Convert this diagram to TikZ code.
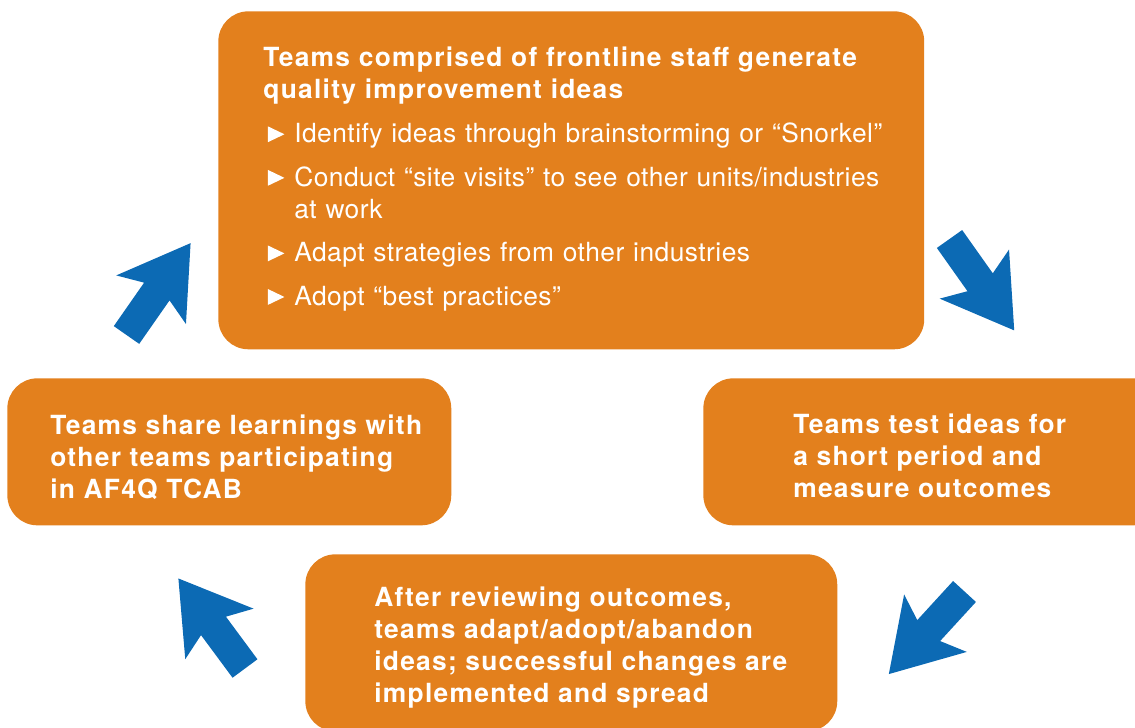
\documentclass[tikz,border=0pt]{standalone}
\usepackage{fontspec}
\setmainfont{TeX Gyre Heros}[LetterSpace=1.8, BoldFeatures={LetterSpace=4.8}]
\usetikzlibrary{positioning}

\definecolor{cycleorange}{RGB}{227,128,29}
\definecolor{cycleblue}{RGB}{12,106,180}

% bullet line with a hanging indent
\newcommand{\bul}[1]{\par\vspace{6.6pt}\hangindent=17.6pt\hangafter=1\noindent\makebox[17.6pt][l]{\hspace{2.6pt}\raisebox{0.2pt}{\tikz\fill (0,0) -- (0,9pt) -- (9.4pt,4.5pt) -- cycle;}}#1}

\begin{document}
\begin{tikzpicture}[x=0.02cm, y=0.02cm,
    stepbox/.style={fill=cycleorange, rounded corners=0.6cm, inner sep=0pt, anchor=north west},
    steptext/.style={text=white, inner sep=0pt, anchor=north west, align=left, font=\fontsize{15}{18.2}\selectfont},
    turn/.style={fill=cycleblue}]
\useasboundingbox (0,0) rectangle (1135,727);
\clip (0,0) rectangle (1135,727);

\node[stepbox, minimum width=14.12cm, minimum height=6.76cm] (ideas) at (218,716) {};
\node[stepbox, minimum width=9.2cm, minimum height=2.94cm] (test) at (703,349) {};
\node[stepbox, minimum width=10.64cm, minimum height=3.54cm] (review) at (305,173) {};
\node[stepbox, minimum width=8.88cm, minimum height=2.94cm] (share) at (7,349) {};

\node[steptext, text width=13cm] (ideastext) at ([shift={(45,-36)}]ideas.north west) {%
  {\bfseries Teams comprised of frontline staff generate\newline quality improvement ideas}
  \bul{Identify ideas through brainstorming or “Snorkel”}
  \bul{Conduct “site visits” to see other units/industries\newline at work}
  \bul{Adapt strategies from other industries}
  \bul{Adopt “best practices”}};
\node[steptext, font=\fontsize{15}{18.2}\selectfont\bfseries] (testtext) at ([shift={(90,-36)}]test.north west) {Teams test ideas for\\a short period and\\measure outcomes};
\node[steptext, font=\fontsize{15}{18.2}\selectfont\bfseries] (reviewtext) at ([shift={(69,-33)}]review.north west) {After reviewing outcomes,\\teams adapt/adopt/abandon\\ideas; successful changes are\\implemented and spread};
\node[steptext, font=\fontsize{15}{18.2}\selectfont\bfseries] (sharetext) at ([shift={(43,-37)}]share.north west) {Teams share learnings with\\other teams participating\\in AF4Q TCAB};

% block arrows between the steps: tail point / angle
\foreach \tx/\ty/\ang in {126.5/392/55.1, 949.5/488/-54.7, 964.5/135.5/-132.5, 245/58.5/126.5}
  \fill[turn, shift={(\tx,\ty)}, rotate=\ang] (0,-15.5) -- (53,-15.5) -- (43,-42.5) -- (112,0) -- (43,42.5) -- (53,15.5) -- (0,15.5) -- cycle;
\end{tikzpicture}
\end{document}
